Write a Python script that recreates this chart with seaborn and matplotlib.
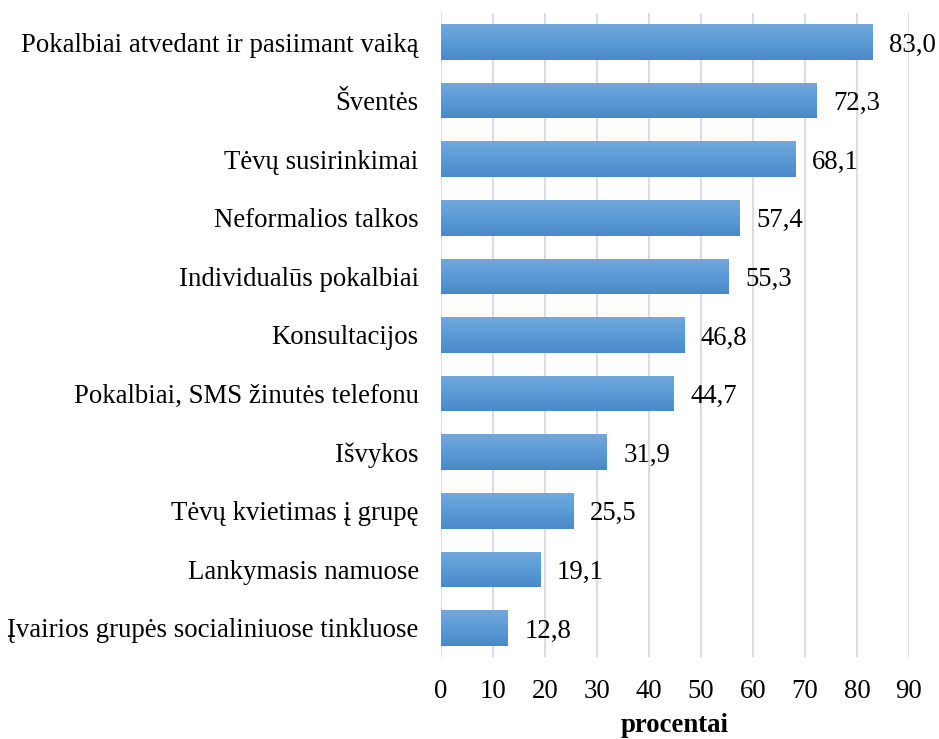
import numpy as np
import pandas as pd
import matplotlib
matplotlib.use("Agg")
import matplotlib.pyplot as plt
from matplotlib.colors import LinearSegmentedColormap
import seaborn as sns

# --- Duomenys ---
categories = [
    "Pokalbiai atvedant ir pasiimant vaiką",
    "Šventės",
    "Tėvų susirinkimai",
    "Neformalios talkos",
    "Individualūs pokalbiai",
    "Konsultacijos",
    "Pokalbiai, SMS žinutės telefonu",
    "Išvykos",
    "Tėvų kvietimas į grupę",
    "Lankymasis namuose",
    "Įvairios grupės socialiniuose tinkluose",
]
values = [83.0, 72.3, 68.1, 57.4, 55.3, 46.8, 44.7, 31.9, 25.5, 19.1, 12.8]
xticks = list(range(0, 100, 10))

FS = 19.3

df = pd.DataFrame({"Forma": categories, "Procentai": values})

sns.set_theme(style="white")
plt.rcParams["font.family"] = ["Liberation Serif", "DejaVu Serif"]
plt.rcParams["text.color"] = "black"

fig = plt.figure(figsize=(9.39, 7.39), dpi=100)
ax = fig.add_axes([0.4696, 0.1106, 0.4984, 0.8722])

ax = sns.barplot(data=df, x="Procentai", y="Forma", color="#5b9bd5",
                 width=0.61, ax=ax, zorder=2)

# gradientas kiekvienam stulpeliui
cmap = LinearSegmentedColormap.from_list(
    "grad", ["#72a8de", "#5b9bd5", "#4a88c8"])
grad = np.linspace(0, 1, 256).reshape(-1, 1)
for patch in ax.patches:
    x0, y0 = patch.get_x(), patch.get_y()
    w, h = patch.get_width(), patch.get_height()
    im = ax.imshow(grad, cmap=cmap, aspect="auto",
                   extent=[x0, x0 + w, y0 + h, y0], zorder=3)
    im.set_clip_path(patch)
    patch.set_facecolor("none")
    patch.set_edgecolor("none")

for container in ax.containers:
    texts = ax.bar_label(container,
                         labels=[f"{v:.1f}".replace(".", ",") for v in values],
                         padding=12, fontsize=FS, color="black")
    for t in texts:
        t.set_va("center_baseline")

ax.set_xlim(0, 90)
ax.set_ylim(len(categories) - 0.5, -0.5)
ax.set_xticks(xticks)
ax.xaxis.grid(True, color="#d9dde6", linewidth=1.5, zorder=0)
ax.set_axisbelow(True)
for s in ax.spines.values():
    s.set_visible(False)
ax.tick_params(axis="x", labelsize=FS, pad=16, length=0, colors="black")
ax.tick_params(axis="y", labelsize=FS, pad=16, length=0, colors="black")
ax.set_ylabel("")
ax.set_xlabel("procentai", fontsize=FS, fontweight="bold", labelpad=6,
              color="black")

fig.savefig("out.png", dpi=100)
